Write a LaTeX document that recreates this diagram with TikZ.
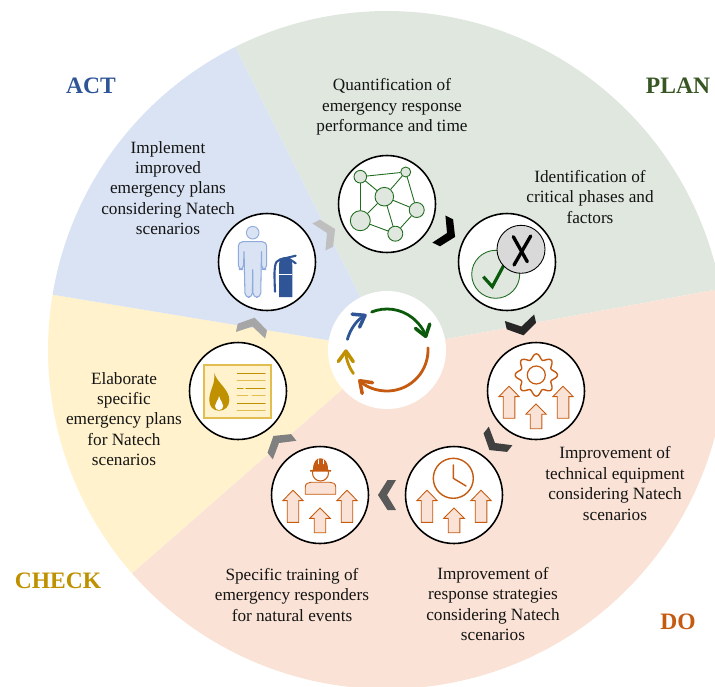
\documentclass[tikz,border=0pt]{standalone}
\usepackage{fontspec}
\setmainfont{Liberation Serif}
\usetikzlibrary{arrows.meta}
\definecolor{planbg}{HTML}{DFE7DF}
\definecolor{dobg}{HTML}{FAE3D6}
\definecolor{checkbg}{HTML}{FFF2CC}
\definecolor{actbg}{HTML}{DAE3F3}
\definecolor{plancol}{HTML}{375623}
\definecolor{docol}{HTML}{C55A11}
\definecolor{checkcol}{HTML}{BF9000}
\definecolor{actcol}{HTML}{2F5597}
\definecolor{netcol}{HTML}{1F6B1F}
\definecolor{arcgreen}{HTML}{0B5A0B}
\definecolor{goldlight}{HTML}{E2BE50}
\definecolor{personline}{HTML}{8FAADC}
\begin{document}
\begin{tikzpicture}[line cap=round,line join=round,x=0.02cm,y=-0.02cm,
  ring/.style={circle,draw=black,fill=white,line width=0.9pt,minimum size=1.94cm,inner sep=0pt},
  caption/.style={align=center,font=\fontsize{9.8}{11.6}\selectfont,text=black!92,inner sep=0pt},
  phase/.style={font=\fontsize{13.4}{15}\selectfont\bfseries,inner sep=0pt},
  netdot/.style={circle,draw=netcol,fill=planbg,line width=0.5pt,inner sep=0pt},
  netline/.style={draw=netcol,line width=0.5pt},
  cyclearc/.style={line width=1.6pt,-{Straight Barb[length=6pt,width=8.5pt,line width=2pt,round]}},
  pics/chevron/.style={code={\fill[#1] (-9,-15) -- (-0.5,-15) -- (9,0) -- (-0.5,15) -- (-9,15) -- (0,0) -- cycle;}},
  pics/uparrow/.style={code={\draw[draw=docol,fill=dobg,line width=0.5pt,line join=miter] (0,0) -- (10.2,10.3) -- (5.8,10.3) -- (5.8,#1) -- (-5.8,#1) -- (-5.8,10.3) -- (-10.2,10.3) -- cycle;}},
  pics/uparrows/.style={code={
    \pic at (-27,-4.7) {uparrow=32};
    \pic at (27,-4.7) {uparrow=32};
    \pic at (0,13) {uparrow=24.7};}}]
\clip (0,0) rectangle (715,686);
\coordinate (hub) at (387,350);
\fill[planbg] (hub) -- ++(-116.6:339) arc[start angle=-116.6,end angle=-10.4,radius=339] -- cycle;
\fill[dobg] (hub) -- ++(-10.4:339) arc[start angle=-10.4,end angle=138.8,radius=339] -- cycle;
\fill[checkbg] (hub) -- ++(138.8:339) arc[start angle=138.8,end angle=189.4,radius=339] -- cycle;
\fill[actbg] (hub) -- ++(189.4:339) arc[start angle=189.4,end angle=243.4,radius=339] -- cycle;
\fill[white] (hub) circle (59);
\draw[arcgreen,cyclearc] (hub) ++(-112:41) arc[start angle=-112,end angle=-17,radius=41];
\draw[docol,cyclearc] (hub) ++(-3:41) arc[start angle=-3,end angle=134,radius=41];
\draw[checkcol,cyclearc] (hub) ++(145:41) arc[start angle=145,end angle=181,radius=41];
\draw[actcol,cyclearc] (hub) ++(195:41) arc[start angle=195,end angle=240,radius=41];
\node[ring] (netring) at (387,204) {};
\node[ring] (checkring) at (507,262) {};
\node[ring] (gearring) at (536,391) {};
\node[ring] (clockring) at (454,495) {};
\node[ring] (workerring) at (320,495) {};
\node[ring] (flamering) at (238,391) {};
\node[ring] (personring) at (267,262) {};
\path (netring) -- pic[midway,sloped,allow upside down]{chevron=black} (checkring);
\path (checkring) -- pic[midway,sloped,allow upside down]{chevron=black!85} (gearring);
\path (gearring) -- pic[midway,sloped,allow upside down]{chevron=black!75} (clockring);
\path (clockring) -- pic[midway,sloped,allow upside down]{chevron=black!65} (workerring);
\path (workerring) -- pic[midway,sloped,allow upside down]{chevron=black!50} (flamering);
\path (flamering) -- pic[midway,sloped,allow upside down]{chevron=black!35} (personring);
\path (personring) -- pic[midway,sloped,allow upside down]{chevron=black!25} (netring);
\node[netdot,minimum size=12.6*0.02cm] (neta) at (360.3,176.7) {};
\node[netdot,minimum size=10*0.02cm] (netb) at (405.7,172) {};
\node[netdot,minimum size=18.6*0.02cm] (netc) at (384.3,196.7) {};
\node[netdot,minimum size=20*0.02cm] (netd) at (360.3,220.7) {};
\node[netdot,minimum size=15*0.02cm] (nete) at (416.7,210) {};
\node[netdot,minimum size=15*0.02cm] (netf) at (395.3,233.7) {};
\draw[netline] (neta) -- (netb);
\draw[netline] (neta) -- (netc);
\draw[netline] (neta) -- (netd);
\draw[netline] (netb) -- (netc);
\draw[netline] (netb) -- (nete);
\draw[netline] (netc) -- (netd);
\draw[netline] (netc) -- (nete);
\draw[netline] (netc) -- (netf);
\draw[netline] (netd) -- (netf);
\draw[netline] (nete) -- (netf);
\draw[netcol,fill=planbg,line width=0.5pt] (495.7,274.3) circle (24);
\draw[arcgreen,line width=1.8pt,line cap=butt,line join=miter] (483.3,276.7) -- (492.3,286.7) -- (505,263);
\draw[black,fill=black!15,line width=0.5pt] (521,249.3) circle (24);
\draw[black,line width=1.9pt] (514,265) -- (530.7,236);
\draw[black,line width=1.9pt] (513.3,236.7) -- (527.3,261.7);
\draw[draw=personline,fill=actbg,line width=0.5pt] (252.7,232.7) circle (6.3);
\draw[draw=personline,fill=actbg,line width=0.6pt,rounded corners=2.5] (238.3,269.5) -- (238.3,241.7) -- (266.7,241.7) -- (266.7,269.5) -- (261.5,269.5) -- (261.5,249) -- (260.7,297.3) -- (253,297.3) -- (252.7,267) -- (252.4,297.3) -- (245,297.3) -- (244,249) -- (243.5,269.5) -- cycle;
\fill[actcol] (279,297) -- (279,265) .. controls (279,259) and (282,257) .. (285.5,257) .. controls (289,257) and (292.3,259) .. (292.3,265) -- (292.3,297) -- cycle;
\draw[white,line width=0.4pt,line cap=butt] (279,274.3) -- (292.3,274.3);
\draw[actcol,line width=1.2pt] (295.7,255.7) -- (280,259.5) .. controls (274,261) and (274,268) .. (275,291.7);
\draw[actcol,line width=1.2pt] (288.3,258.3) -- (295.7,263.3);
\draw[goldlight,fill=checkbg,line width=1.1pt,line join=miter] (204,365) rectangle (271,418);
\draw[checkcol,line width=0.6pt] (237.3,373.3) -- (265,373.3);
\draw[goldlight,line width=0.8pt] (237.3,380.7) -- (265,380.7);
\draw[checkcol,line width=0.6pt] (237.3,388.3) -- (243,388.3);
\draw[checkcol,line width=0.6pt] (246,388.3) -- (265,388.3);
\draw[goldlight,line width=0.8pt] (237.3,395.7) -- (247.5,395.7);
\draw[goldlight,line width=0.8pt] (252.3,395.7) -- (265,395.7);
\draw[checkcol,line width=0.6pt] (237.3,403.3) -- (265,403.3);
\draw[goldlight,line width=0.8pt] (237.3,410.7) -- (265,410.7);
\fill[checkcol] (214.3,372.7) .. controls (216,382) and (229.3,389) .. (229.3,400) .. controls (229.3,406.5) and (225,410.7) .. (219,410.7) .. controls (213,410.7) and (209.3,406.5) .. (209.3,400) .. controls (209.3,390) and (215.5,385) .. (214.3,372.7) -- cycle;
\fill[white] (219,396) .. controls (220,401) and (223.2,402) .. (223.2,406) .. controls (223.2,408.6) and (221.3,410) .. (219,410) .. controls (216.7,410) and (215,408.6) .. (215,406) .. controls (215,402) and (218.5,401) .. (219,396) -- cycle;
\pic at (workerring) {uparrows};
\pic at (gearring) {uparrows};
\pic at (clockring) {uparrows};
\draw[docol,fill=dobg,line width=0.5pt] (305.3,494.3) -- (305.3,487) .. controls (305.3,483.5) and (308,482.3) .. (311,482.3) -- (330,482.3) .. controls (333,482.3) and (335.7,483.5) .. (335.7,487) -- (335.7,494.3) -- cycle;
\draw[docol,fill=white,line width=0.6pt] (320.5,473) circle (8);
\fill[docol] (310,470) -- (313,470) .. controls (313,462) and (316,458.3) .. (320.5,458.3) .. controls (325,458.3) and (328,462) .. (328,470) -- (331,470) -- (331,471.5) -- (310,471.5) -- cycle;
\draw[white,line width=0.25pt] (317.8,459.5) -- (317.8,464);
\draw[white,line width=0.25pt] (323.2,459.5) -- (323.2,464);
\draw[docol,line width=0.7pt] (536.3,375) circle (9);
\draw[docol,line width=0.8pt,shift={(536.3,375)}] plot[domain=0:360,samples=145,smooth] (\x:{18.5+2.6*cos(8*\x)}) -- cycle;
\draw[docol,line width=0.8pt] (453.3,478.3) circle (20);
\draw[docol,line width=0.8pt] (453.3,465) -- (453.3,478.3) -- (466,486);
\node[caption] (quanttext) at (392,107) {Quantification of\\emergency response\\performance and time};
\node[caption] (criticaltext) at (590,197) {Identification of\\critical phases and\\factors};
\node[caption] (equiptext) at (615,483.5) {Improvement of\\technical equipment\\considering Natech\\scenarios};
\node[caption] (strategytext) at (493,604) {Improvement of\\response strategies\\considering Natech\\scenarios};
\node[caption] (trainingtext) at (292,595) {Specific training of\\emergency responders\\for natural events};
\node[caption] (elaboratetext) at (124,419) {Elaborate\\specific\\emergency plans\\for Natech\\scenarios};
\node[caption] (implementtext) at (168,188) {Implement\\improved\\emergency plans\\considering Natech\\scenarios};
\node[phase,text=actcol] (actlabel) at (91,86) {ACT};
\node[phase,text=plancol] (planlabel) at (678,86) {PLAN};
\node[phase,text=checkcol] (checklabel) at (58,581) {CHECK};
\node[phase,text=docol] (dolabel) at (678,622) {DO};
\end{tikzpicture}
\end{document}
